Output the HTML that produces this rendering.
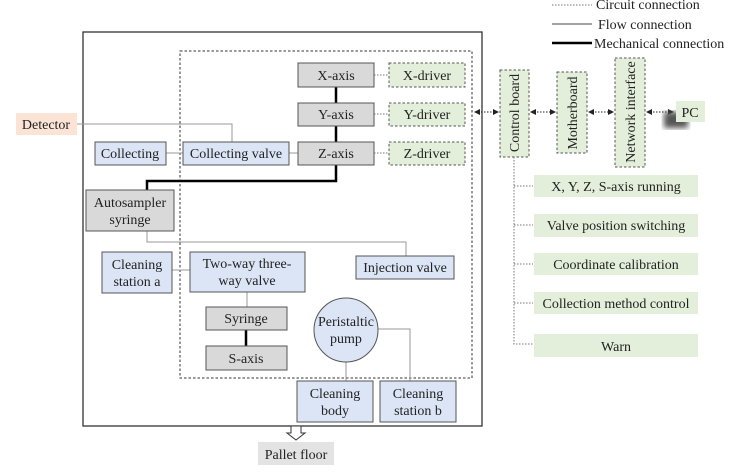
<!DOCTYPE html>
<html><head><meta charset="utf-8"><style>
body{margin:0;background:#fff}
svg text{font-family:"Liberation Serif",serif;font-size:14px;fill:#222}
</style></head><body>
<svg width="734" height="468" viewBox="0 0 734 468" xmlns="http://www.w3.org/2000/svg">
<defs>
<marker id="a" markerWidth="6" markerHeight="6" refX="5" refY="3" orient="auto-start-reverse"><path d="M0,0L6,3L0,6z" fill="#222"/></marker>
<filter id="sh"><feGaussianBlur stdDeviation="3"/></filter>
</defs>
<!-- legend -->
<line x1="552" y1="5" x2="592" y2="5" stroke="#777" stroke-dasharray="1.5,1.5"/>
<text x="596" y="9">Circuit connection</text>
<line x1="552" y1="24" x2="592" y2="24" stroke="#444" stroke-width="1"/>
<text x="598" y="29">Flow connection</text>
<line x1="552" y1="43" x2="592" y2="43" stroke="#000" stroke-width="2.5"/>
<text x="594" y="48">Mechanical connection</text>
<!-- frames -->
<rect x="83" y="32" width="399" height="394" fill="none" stroke="#333" stroke-width="1.3"/>
<rect x="180" y="51" width="292" height="327" fill="none" stroke="#333" stroke-dasharray="2.5,2"/>
<!-- flow lines -->
<g stroke="#999" fill="none" stroke-width="1">
<polyline points="77,124 232,124 232,142"/>
<line x1="166" y1="153" x2="183" y2="153"/>
<line x1="289" y1="153" x2="298" y2="153"/>
<polyline points="147,230 147,242 406,242 406,256"/>
<line x1="172" y1="270" x2="190" y2="270"/>
<line x1="247" y1="292" x2="247" y2="307"/>
<line x1="346" y1="362" x2="346" y2="381"/>
<polyline points="378,329 410,329 410,381"/>
</g>
<!-- mechanical -->
<g stroke="#000" stroke-width="2.5" fill="none">
<line x1="336" y1="87" x2="336" y2="103"/>
<line x1="336" y1="126" x2="336" y2="142"/>
<polyline points="336,165 336,181 147,181 147,190"/>
<line x1="246" y1="330" x2="246" y2="346"/>
</g>
<!-- circuit -->
<g stroke="#777" stroke-dasharray="1.5,1.5" fill="none">
<line x1="374" y1="75" x2="389" y2="75"/>
<line x1="374" y1="114" x2="389" y2="114"/>
<line x1="374" y1="153" x2="389" y2="153"/>
<polyline points="514,157 514,344 533,344"/>
<line x1="514" y1="186" x2="533" y2="186"/>
<line x1="514" y1="225" x2="533" y2="225"/>
<line x1="514" y1="264" x2="533" y2="264"/>
<line x1="514" y1="303" x2="533" y2="303"/>
</g>
<g stroke="#222" stroke-dasharray="1.5,1.5" fill="none" marker-start="url(#a)" marker-end="url(#a)">
<line x1="475" y1="112" x2="498" y2="112"/>
<line x1="531" y1="112" x2="555" y2="112"/>
<line x1="589" y1="112" x2="613" y2="112"/>
<line x1="647" y1="112" x2="673" y2="112"/>
</g>
<!-- gray boxes -->
<g fill="#d9d9d9" stroke="#555">
<rect x="298" y="63" width="76" height="24"/>
<rect x="298" y="103" width="76" height="23"/>
<rect x="298" y="142" width="76" height="23"/>
<rect x="86" y="190" width="88" height="41"/>
<rect x="206" y="307" width="81" height="23"/>
<rect x="206" y="346" width="81" height="24"/>
</g>
<!-- green dashed -->
<g fill="#e3eedb" stroke="#555" stroke-dasharray="2.5,2">
<rect x="389" y="63" width="76" height="24"/>
<rect x="389" y="103" width="76" height="23"/>
<rect x="389" y="142" width="76" height="23"/>
<rect x="500" y="70" width="29" height="87"/>
<rect x="557" y="72" width="30" height="81"/>
<rect x="615" y="58" width="30" height="109"/>
</g>
<!-- blue -->
<g fill="#dbe5f5" stroke="#555">
<rect x="95" y="142" width="71" height="23"/>
<rect x="183" y="142" width="106" height="23"/>
<rect x="356" y="256" width="98" height="23"/>
<rect x="102" y="252" width="70" height="41"/>
<rect x="190" y="252" width="115" height="40"/>
<circle cx="346" cy="330" r="32"/>
<rect x="297" y="381" width="76" height="41"/>
<rect x="380" y="381" width="76" height="41"/>
</g>
<rect x="16" y="113" width="61" height="22" fill="#fbe3d6"/>
<rect x="258" y="442" width="76" height="23" fill="#e3e3e3"/>
<g fill="#e3eedb">
<rect x="534" y="175" width="164" height="22"/>
<rect x="534" y="214" width="164" height="23"/>
<rect x="534" y="253" width="164" height="22"/>
<rect x="534" y="292" width="164" height="22"/>
<rect x="534" y="334" width="164" height="23"/>
</g>
<rect x="664" y="112" width="24" height="16" fill="#555" filter="url(#sh)"/>
<rect x="676" y="101" width="29" height="21" fill="#e3eedb"/>
<!-- pallet arrow -->
<path d="M291,426 L301,426 L301,433 L305,433 L296,440 L287,433 L291,433z" fill="#fff" stroke="#333"/>
<!-- text -->
<g text-anchor="middle">
<text x="336" y="80">X-axis</text>
<text x="336" y="119">Y-axis</text>
<text x="336" y="158">Z-axis</text>
<text x="427" y="80">X-driver</text>
<text x="427" y="119">Y-driver</text>
<text x="427" y="158">Z-driver</text>
<text x="46" y="129">Detector</text>
<text x="130" y="158">Collecting</text>
<text x="236" y="158">Collecting valve</text>
<text x="130" y="207">Autosampler</text>
<text x="130" y="224">syringe</text>
<text x="137" y="269">Cleaning</text>
<text x="137" y="286">station a</text>
<text x="247" y="268">Two-way three-</text>
<text x="247" y="285">way valve</text>
<text x="405" y="272">Injection valve</text>
<text x="246" y="323">Syringe</text>
<text x="246" y="363">S-axis</text>
<text x="346" y="326">Peristaltic</text>
<text x="346" y="343">pump</text>
<text x="335" y="398">Cleaning</text>
<text x="335" y="415">body</text>
<text x="418" y="398">Cleaning</text>
<text x="418" y="415">station b</text>
<text x="296" y="459">Pallet floor</text>
<text x="690" y="117">PC</text>
<text x="616" y="191">X, Y, Z, S-axis running</text>
<text x="616" y="230">Valve position switching</text>
<text x="616" y="269">Coordinate calibration</text>
<text x="616" y="308">Collection method control</text>
<text x="616" y="351">Warn</text>
<text transform="translate(519,113) rotate(-90)">Control board</text>
<text transform="translate(577,113) rotate(-90)">Motherboard</text>
<text transform="translate(635,112) rotate(-90)">Network interface</text>
</g>
</svg>
</body></html>
